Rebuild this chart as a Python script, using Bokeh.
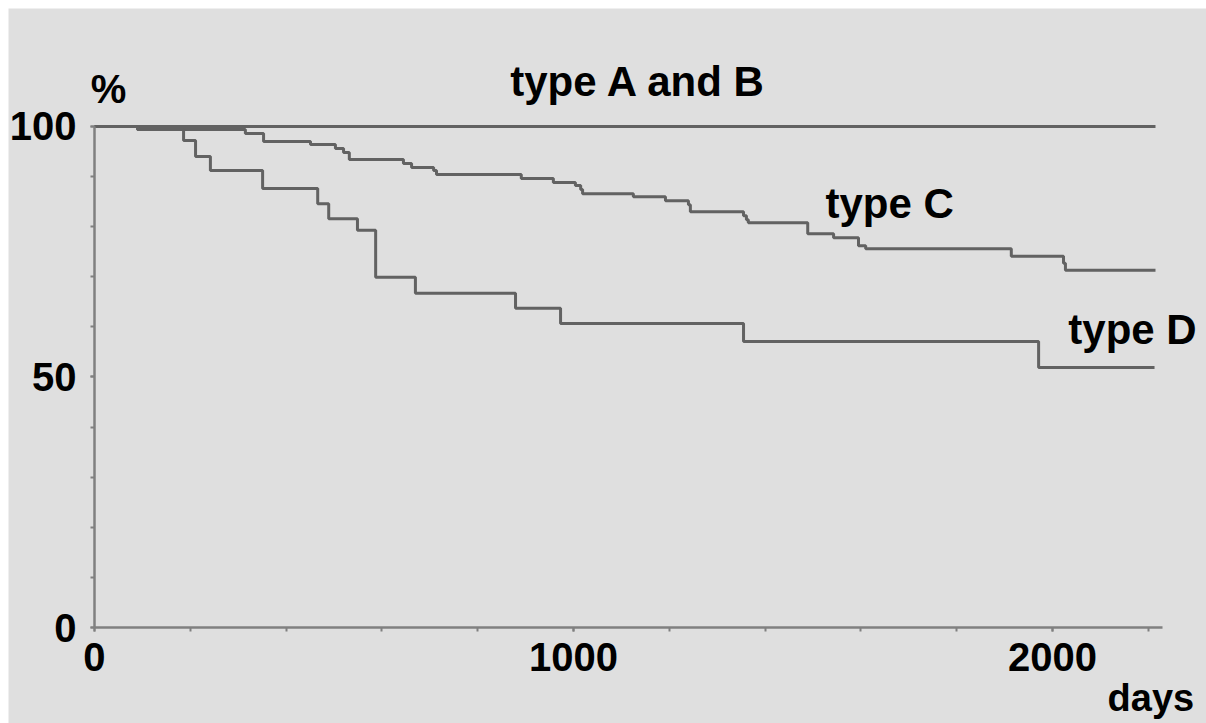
from bokeh.plotting import figure
from bokeh.models import Range1d, FixedTicker, Label
from bokeh.embed import file_html
from bokeh.resources import INLINE

# ---- data ----
days_ab = [0, 2215]
surv_ab = [100, 100]

days_c = [0, 90, 315, 353, 451, 503, 520, 532, 645, 662, 708, 714, 891, 958, 1004,
          1015, 1019, 1125, 1192, 1240, 1244, 1355, 1361, 1365, 1489, 1543, 1595,
          1610, 1914, 2023, 2027, 2215]
surv_c = [100, 99.4, 98.6, 97.0, 96.4, 95.6, 94.8, 93.4, 92.6, 91.8, 91.2, 90.4, 89.6,
          88.8, 88.2, 87.4, 86.6, 86.0, 85.2, 84.4, 83.0, 82.2, 81.4, 80.8, 78.6, 77.8,
          76.2, 75.6, 74.1, 72.7, 71.3, 71.3]

days_d = [0, 90, 186, 211, 242, 351, 466, 489, 549, 587, 670, 879, 973, 1355, 1971, 2213]
surv_d = [100, 99.4, 97.2, 94.0, 91.2, 87.6, 84.6, 81.6, 79.3, 69.9, 66.7, 63.7, 60.7,
          57.1, 51.9, 51.9]

x_major = [0, 1000, 2000]
x_minor = [0, 200, 400, 600, 800, 1000, 1200, 1400, 1600, 1800, 2000, 2200]
y_major = [0, 50, 100]
y_minor = [0, 10, 20, 30, 40, 50, 60, 70, 80, 90, 100]

BG = "#dfdfdf"
LINE = "#626262"
AX = "#808080"
FONT = "Liberation Sans"
FS = "40px"
FS_LAB = "42px"

p = figure(width=1206, height=723, output_backend="svg", toolbar_location=None,
           x_range=Range1d(-179.5, 2321.5), y_range=Range1d(-19.16, 123.55),
           min_border_left=8, min_border_right=0, min_border_top=8, min_border_bottom=0)
p.background_fill_color = BG
p.border_fill_color = "white"
p.outline_line_color = None
p.grid.visible = False

for ax in (p.xaxis, p.yaxis):
    ax.fixed_location = 0
    ax.axis_line_color = AX
    ax.axis_line_width = 2.5
    ax.major_tick_line_color = AX
    ax.minor_tick_line_color = AX
    ax.major_tick_line_width = 2
    ax.minor_tick_line_width = 2
    ax.major_tick_out = 4
    ax.major_tick_in = 0
    ax.minor_tick_out = 4
    ax.minor_tick_in = 0
    ax.major_label_text_font = FONT
    ax.major_label_text_font_style = "bold"
    ax.major_label_text_font_size = FS
    ax.major_label_text_color = "black"

p.xaxis.ticker = FixedTicker(ticks=x_major, minor_ticks=x_minor)
p.yaxis.ticker = FixedTicker(ticks=y_major, minor_ticks=y_minor)
p.xaxis.bounds = (0, 2230)
p.yaxis.bounds = (0, 100)
p.xaxis.major_label_standoff = 11
p.yaxis.major_label_standoff = 14

p.step(days_ab, surv_ab, mode="after", line_color=LINE, line_width=3)
p.step(days_c, surv_c, mode="after", line_color=LINE, line_width=3)
p.step(days_d, surv_d, mode="after", line_color=LINE, line_width=3)

def lab(x, y, t, fs=FS_LAB):
    p.add_layout(Label(x=x, y=y, text=t, text_font=FONT, text_font_style="bold",
                       text_font_size=fs, text_color="black",
                       text_align="left", text_baseline="alphabetic"))

lab(-8, 107.4, "%", FS)
lab(868, 109.0, "type A and B")
lab(1526, 84.6, "type C")
lab(2033, 59.5, "type D")
lab(2115, -14.0, "days", "38px")

open("out.html", "w").write(file_html(p, INLINE))
